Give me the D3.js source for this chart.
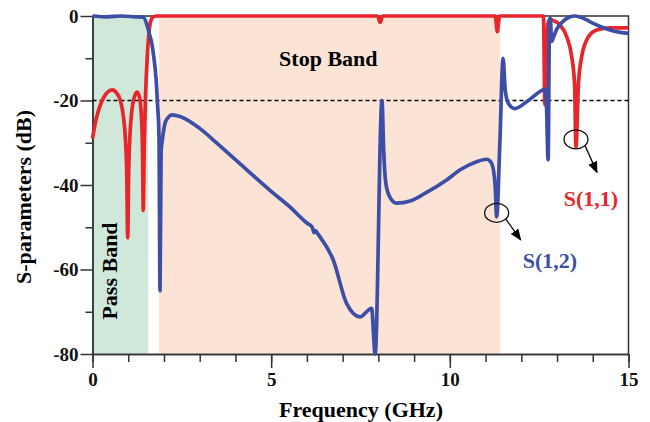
<!DOCTYPE html>
<html>
<head>
<meta charset="utf-8">
<script src="https://cdn.jsdelivr.net/npm/d3@7"></script>
<style>
  body { margin: 0; background: #fff; }
  text { font-family: "Liberation Serif", "Times New Roman", serif; font-weight: bold; }
</style>
</head>
<body>
<svg id="chart" width="650" height="422"></svg>
<script>
// S(1,1) trace (GHz, dB)
const s11Freq = [0, 0.1, 0.2, 0.3, 0.4, 0.55, 0.68, 0.78, 0.86, 0.92, 0.96, 0.985, 1.01, 1.05, 1.1, 1.17, 1.25, 1.32, 1.37, 1.4, 1.42,
  1.45, 1.48, 1.53, 1.58, 1.63, 1.7, 1.8, 4, 7.98, 8.05, 8.12, 11.27, 11.33, 11.39, 12.62, 12.66, 12.7, 12.74, 12.8,
  12.9, 13.08, 13.27, 13.41, 13.49, 13.53, 13.6, 13.69, 13.88, 14.11, 14.48, 15];
const s11Db = [-29, -24.5, -21.5, -19.5, -18.2, -17.5, -18.3, -20, -23.5, -29, -38, -52.5, -38, -28, -22.5, -19.2, -18, -19.5, -24, -32, -46,
  -30, -20, -10, -4, -1.2, -0.2, 0, 0, 0, -1.5, 0, 0, -3.7, 0, 0, -21, -21, -2, -0.8,
  -1.1, -2.1, -4.9, -9.6, -16, -31, -16, -9.6, -4.9, -3.3, -2.8, -2.8];

// S(1,2) trace
const s12Freq = [0, 0.4, 0.8, 1.2, 1.42, 1.52, 1.6, 1.66, 1.72, 1.78, 1.82, 1.86, 1.89, 1.92, 1.96, 2.03, 2.12, 2.22, 2.45, 3.0, 3.48,
  4, 5, 5.5, 6, 6.15, 6.2, 6.24, 6.3, 6.74, 7.11, 7.49, 7.81, 7.91, 8.1, 8.15, 8.2, 8.3, 8.51, 8.89, 9.3, 9.91,
  10.29, 10.75, 11.03, 11.15, 11.22, 11.27, 11.31, 11.4, 11.49, 11.55, 11.64, 11.82, 12.15, 12.52, 12.66, 12.7, 12.75,
  12.79, 12.81, 12.85, 12.9, 13.0, 13.2, 13.5, 13.8, 14.0, 14.3, 14.6, 15];
const s12Db = [0, -0.2, 0, -0.2, -0.3, -2, -4.5, -6.5, -10, -15, -21, -28, -65, -32, -29, -25.4, -24, -23.4, -23.8, -26.6, -30.1,
  -34, -41.5, -45, -49, -50, -51.3, -50.8, -51.5, -57.8, -68, -71.2, -69.2, -80, -20, -32, -39, -42.5, -44.3, -43.8, -42, -38.8,
  -36.4, -34.5, -33.9, -34.6, -36.4, -40.4, -47.5, -30, -10, -17.5, -20.7, -21.9, -20.3, -17.9, -17.3, -20, -34,
  -1, -0.5, -6, -5, -3, -1, 0, -0.8, -1.7, -2.8, -3.6, -4.1];

// shaded bands (GHz)
const passBand = [0, 1.56];
const stopBand = [1.86, 11.41];

const xMajor = [0, 5, 10, 15];
const xMinor = d3.range(0, 16);
const yMajor = [0, -20, -40, -60, -80];
const yMinor = [-10, -30, -50, -70];
const refLevel = -20;

const svg = d3.select('#chart');
const x = d3.scaleLinear().domain([0, 15]).range([92.5, 628.5]);
const y = d3.scaleLinear().domain([-80, 0]).range([354, 16]);

const red = '#e6262b';
const blue = '#3c4ea6';

// bands
svg.append('rect')
  .attr('x', x(passBand[0])).attr('y', y(0))
  .attr('width', x(passBand[1]) - x(passBand[0])).attr('height', y(-80) - y(0))
  .attr('fill', '#cfe8da');
svg.append('rect')
  .attr('x', x(stopBand[0])).attr('y', y(0))
  .attr('width', x(stopBand[1]) - x(stopBand[0])).attr('height', y(-80) - y(0))
  .attr('fill', '#fbe4d6');

svg.append('text').attr('x', x(6.6)).attr('y', 66)
  .attr('text-anchor', 'middle').style('font-size', '22px').text('Stop Band');
svg.append('text')
  .attr('transform', `translate(${x(0.68)},271) rotate(-90)`)
  .attr('text-anchor', 'middle').style('font-size', '22px').text('Pass Band');

// axes
function styleAxis(g) {
  g.selectAll('path, line').attr('stroke', '#333').attr('stroke-width', 1.5);
  g.selectAll('text').style('font-size', '19px').attr('fill', '#111');
}
svg.append('g').attr('transform', 'translate(0,354)')
  .call(d3.axisBottom(x).tickValues(xMinor).tickSize(8).tickSizeOuter(0).tickFormat(''))
  .call(styleAxis);
svg.append('g').attr('transform', 'translate(0,354)')
  .call(d3.axisBottom(x).tickValues(xMajor).tickSize(14).tickSizeOuter(0).tickPadding(5).tickFormat(d => String(d)))
  .call(styleAxis);
svg.append('g').attr('transform', 'translate(92.5,0)')
  .call(d3.axisLeft(y).tickValues(yMinor).tickSize(7).tickSizeOuter(0).tickFormat(''))
  .call(styleAxis);
svg.append('g').attr('transform', 'translate(92.5,0)')
  .call(d3.axisLeft(y).tickValues(yMajor).tickSize(12).tickSizeOuter(0).tickPadding(2).tickFormat(d => String(d)))
  .call(styleAxis);

// frame top and right
svg.append('path')
  .attr('d', `M${x(0)},${y(0)}H${x(15)}V${y(-80)}`)
  .attr('fill', 'none').attr('stroke', '#333').attr('stroke-width', 1.5);

// -20 dB reference
svg.append('line')
  .attr('x1', x(0)).attr('x2', x(15)).attr('y1', y(refLevel)).attr('y2', y(refLevel))
  .attr('stroke', '#000').attr('stroke-width', 1.6).attr('stroke-dasharray', '4,3');

// traces
const line = d3.line().x(d => x(d[0])).y(d => y(d[1])).curve(d3.curveMonotoneX);
svg.append('path').datum(d3.zip(s11Freq, s11Db))
  .attr('d', line).attr('fill', 'none').attr('stroke', red).attr('stroke-width', 3.7)
  .attr('stroke-linejoin', 'round');
svg.append('path').datum(d3.zip(s12Freq, s12Db))
  .attr('d', line).attr('fill', 'none').attr('stroke', blue).attr('stroke-width', 3.7)
  .attr('stroke-linejoin', 'round');

// annotations
svg.append('defs').append('marker')
  .attr('id', 'arrow').attr('viewBox', '0 0 10 10').attr('refX', 9).attr('refY', 5)
  .attr('markerWidth', 9).attr('markerHeight', 9).attr('orient', 'auto')
  .append('path').attr('d', 'M0,1L10,5L0,9Z').attr('fill', '#000');

const notes = [
  { f: 11.31, db: -46.6, dx: 24, dy: 27, label: 'S(1,2)', lx: 550, ly: 268, color: blue },
  { f: 13.53, db: -29.2, dx: 21, dy: 33, label: 'S(1,1)', lx: 591, ly: 206, color: red }
];
notes.forEach(n => {
  const cx = x(n.f), cy = y(n.db);
  svg.append('ellipse').attr('cx', cx).attr('cy', cy).attr('rx', 12).attr('ry', 9.5)
    .attr('fill', 'none').attr('stroke', '#111').attr('stroke-width', 1.3);
  svg.append('line')
    .attr('x1', cx + 9).attr('y1', cy + 6).attr('x2', cx + n.dx).attr('y2', cy + n.dy)
    .attr('stroke', '#111').attr('stroke-width', 1.3).attr('marker-end', 'url(#arrow)');
  svg.append('text').attr('x', n.lx).attr('y', n.ly).attr('text-anchor', 'middle')
    .attr('fill', n.color).style('font-size', '22px').text(n.label);
});

// axis titles
svg.append('text').attr('x', 361).attr('y', 417).attr('text-anchor', 'middle')
  .style('font-size', '22px').text('Frequency (GHz)');
svg.append('text').attr('transform', 'translate(31,197) rotate(-90)')
  .attr('text-anchor', 'middle').style('font-size', '22px').text('S-parameters (dB)');
</script>
</body>
</html>
